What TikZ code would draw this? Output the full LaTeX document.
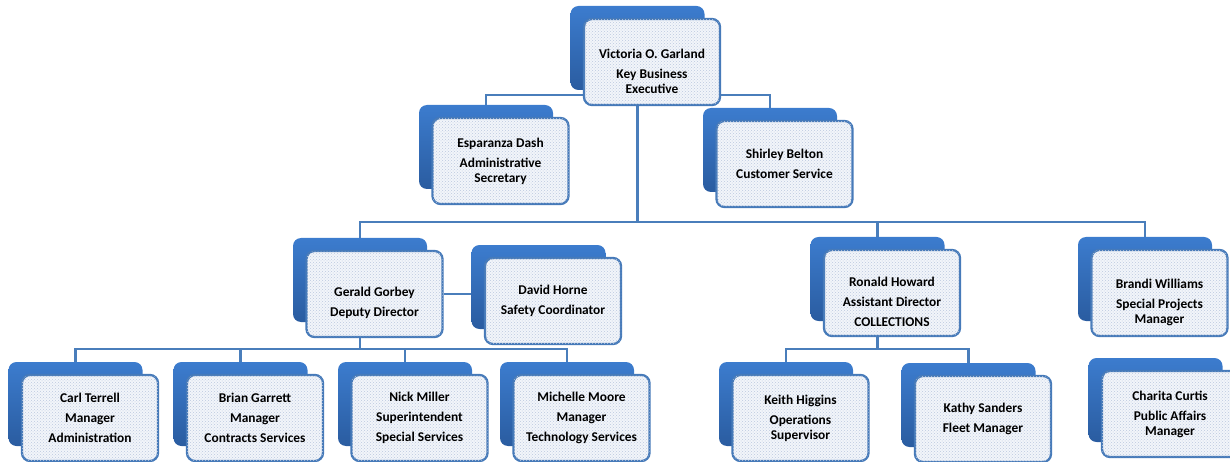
\documentclass[tikz,border=0pt]{standalone}
\usepackage{fontspec}
\setmainfont{Carlito}
\usetikzlibrary{backgrounds,patterns}
\definecolor{lineblue}{RGB}{74,126,187}
\definecolor{bordblue}{RGB}{70,122,185}
\definecolor{backtop}{RGB}{60,124,206}
\definecolor{backbot}{RGB}{42,92,160}
\definecolor{frontfill}{RGB}{242,245,250}
\definecolor{dotcol}{RGB}{188,200,222}
\tikzset{
  backbox/.style={rectangle, rounded corners=8pt, minimum width=134pt, minimum height=84pt,
    top color=backtop, bottom color=backbot, draw=none},
  frontbox/.style={rectangle, rounded corners=8pt, minimum width=136pt, minimum height=86pt,
    fill=frontfill, draw=bordblue, line width=2.3pt,
    postaction={pattern=crosshatch dots, pattern color=dotcol}},
  txt/.style={align=center, inner sep=0pt, font=\bfseries\fontsize{13.4}{15}\selectfont},
  conn/.style={draw=lineblue, line width=2.2pt}
}
\newcommand\orgunit[5]{%
  \node[backbox] (#1-b) at (#2,#3) {};
  \node[frontbox] (#1) at (#2+14.5,#3+14) {};
  \node[txt] (#1-t) at ([yshift=-#5pt]#1.center) {#4};
}
\begin{document}
\begin{tikzpicture}[x=1pt,y=-1pt]
\useasboundingbox (0,0) rectangle (1230,462);
\orgunit{V}{637.5}{48}{Victoria O. Garland\\[5pt]Key Business\\Executive}{9}
\orgunit{E}{486}{147}{Esparanza Dash\\[5pt]Administrative\\Secretary}{0}
\orgunit{S}{770}{150}{Shirley Belton\\[5pt]Customer Service}{0}
\orgunit{G}{360}{280}{Gerald Gorbey\\[5pt]Deputy Director}{9}
\orgunit{D}{538.5}{287}{David Horne\\[5pt]Safety Coordinator}{0}
\orgunit{R}{877.5}{279}{Ronald Howard\\[5pt]Assistant Director\\[5pt]COLLECTIONS}{9}
\orgunit{B}{1145}{279}{Brandi Williams\\[5pt]Special Projects\\Manager}{9}
\orgunit{C}{75.5}{404}{Carl Terrell\\[5pt]Manager\\[5pt]Administration}{0}
\orgunit{Br}{240.5}{404}{Brian Garrett\\[5pt]Manager\\[5pt]Contracts Services}{0}
\orgunit{N}{405}{404}{Nick Miller\\[5pt]Superintendent\\[5pt]Special Services}{0}
\orgunit{M}{567}{404}{Michelle Moore\\[5pt]Manager\\[5pt]Technology Services}{0}
\orgunit{K}{786}{404}{Keith Higgins\\[5pt]Operations\\Supervisor}{0}
\orgunit{Ka}{968.5}{405}{Kathy Sanders\\[5pt]Fleet Manager}{0}
\orgunit{Ch}{1155.5}{400}{Charita Curtis\\[5pt]Public Affairs\\Manager}{0}
\coordinate (bus0) at (0,95);
\coordinate (bus1) at (0,222);
\coordinate (bus2) at (0,349);
\begin{scope}[on background layer]
  \draw[conn] (E-b.north) -- (E-b.north |- bus0) -- (S-b.north |- bus0) -- (S-b.north);
  \draw[conn] (V-b.center) -- (V-b.center |- bus1);
  \draw[conn] (G-b.north) -- (G-b.north |- bus1) -- (B-b.north |- bus1) -- (B-b.north);
  \draw[conn] (R-b.north) -- (R-b.north |- bus1);
  \draw[conn] (G.east) -- (D-b.west |- G.east);
  \draw[conn] (G-b.center) -- (G-b.center |- bus2);
  \draw[conn] (C-b.north) -- (C-b.north |- bus2) -- (M-b.north |- bus2) -- (M-b.north);
  \draw[conn] (Br-b.north) -- (Br-b.north |- bus2);
  \draw[conn] (N-b.north) -- (N-b.north |- bus2);
  \draw[conn] (R-b.center) -- (R-b.center |- bus2);
  \draw[conn] (K-b.north) -- (K-b.north |- bus2) -- (Ka-b.north |- bus2) -- (Ka-b.north);
\end{scope}
\end{tikzpicture}
\end{document}
